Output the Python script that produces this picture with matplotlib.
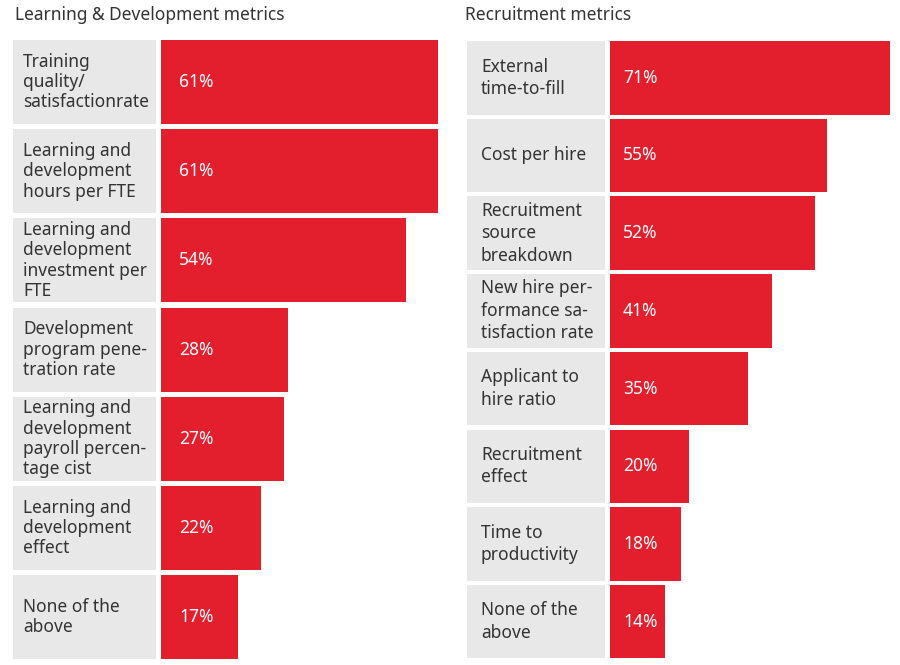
import matplotlib
matplotlib.use("Agg")
import matplotlib.pyplot as plt

ld_labels = [
    "Training\nquality/\nsatisfactionrate",
    "Learning and\ndevelopment\nhours per FTE",
    "Learning and\ndevelopment\ninvestment per\nFTE",
    "Development\nprogram pene-\ntration rate",
    "Learning and\ndevelopment\npayroll percen-\ntage cist",
    "Learning and\ndevelopment\neffect",
    "None of the\nabove",
]
ld_values = [61, 61, 54, 28, 27, 22, 17]

rec_labels = [
    "External\ntime-to-fill",
    "Cost per hire",
    "Recruitment\nsource\nbreakdown",
    "New hire per-\nformance sa-\ntisfaction rate",
    "Applicant to\nhire ratio",
    "Recruitment\neffect",
    "Time to\nproductivity",
    "None of the\nabove",
]
rec_values = [71, 55, 52, 41, 35, 20, 18, 14]

RED = "#e31e2d"
GREY = "#e8e8e8"
TXT = "#333333"
plt.rcParams["font.family"] = ["Noto Sans", "DejaVu Sans"]

W, H = 900, 665
fig = plt.figure(figsize=(W / 100, H / 100), dpi=100)


def panel(title, labels, values, box_l, box_r, bar_l, px_per, top, pitch, barh,
          label_x, val_off, lspace, title_x):
    n = len(labels)
    ax_l = box_l
    ax_r = W - 2
    ax_top = top - (pitch - barh) / 2
    ax_h = n * pitch
    ax = fig.add_axes([ax_l / W, (H - ax_top - ax_h) / H, (ax_r - ax_l) / W, ax_h / H])
    xmin = -(bar_l - box_l) / px_per
    xmax = (ax_r - bar_l) / px_per
    ax.set_xlim(xmin, xmax)
    ax.set_ylim(n - 0.5, -0.5)
    ax.axis("off")
    h = barh / pitch
    box_w = (box_r - box_l) / px_per
    for i, (lab, v) in enumerate(zip(labels, values)):
        ax.barh(i, box_w, left=xmin, height=h, color=GREY)
        ax.barh(i, v, left=0, height=h, color=RED)
        ax.text(xmin + (label_x - box_l) / px_per, i, lab, va="center", ha="left",
                fontsize=12.5, color=TXT, linespacing=lspace)
        ax.text(val_off / px_per, i, f"{v}%", va="center", ha="left",
                fontsize=12.5, color="white")
    fig.text(title_x / W, 1 - 15 / H, title, fontsize=12.5, color=TXT,
             va="center", ha="left")


panel("Learning & Development metrics", ld_labels, ld_values,
      13, 156, 161, 4.54, 40, 89.2, 84, 23, 18, 1.17, 15)
panel("Recruitment metrics", rec_labels, rec_values,
      467, 605, 610, 3.94, 41, 77.7, 73.5, 481, 13, 1.32, 465)

fig.savefig("out.png", dpi=100)
